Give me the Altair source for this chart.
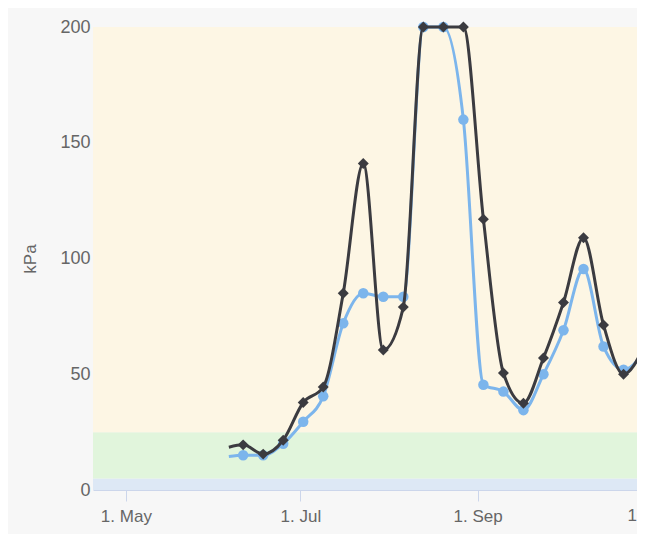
import altair as alt
import pandas as pd

# ---- data ----
dates = ["2019-06-06", "2019-06-11", "2019-06-18", "2019-06-25", "2019-07-02",
         "2019-07-09", "2019-07-16", "2019-07-23", "2019-07-30", "2019-08-06",
         "2019-08-13", "2019-08-20", "2019-08-27", "2019-09-03", "2019-09-10",
         "2019-09-17", "2019-09-24", "2019-10-01", "2019-10-08", "2019-10-15",
         "2019-10-22", "2019-10-29"]
has_marker = [False] + [True] * 21
series_blue = [14.5, 15, 15, 20, 29.5, 40.5, 72, 85, 83.5, 83.5,
               200, 200, 160, 45.5, 42.5, 34.5, 50, 69, 95.5, 62,
               52, 59]
series_dark = [18.5, 19.5, 15.5, 21.5, 37.8, 44.5, 85, 141, 60.5, 79,
               200, 200, 200, 117, 50.5, 37.5, 57, 81, 109, 71.3,
               50, 61.5]
band_low = [0, 5, 25]
band_high = [5, 25, 200]
band_color = ["#dde8f5", "#e1f5dc", "#fdf6e4"]
tick_months = [5, 7, 9]
clipped_tick_dates = ["2019-11-01"]
clipped_tick_labels = ["1. Nov"]

BLUE = "#7cb5ec"
DARK = "#3b3b40"
AXIS_GREY = "#666666"
FONT = "Liberation Sans"
W, H = 544, 463

df = pd.DataFrame({"date": dates, "marker": has_marker,
                   "blue": series_blue, "dark": series_dark})
bands = pd.DataFrame({"lo": band_low, "hi": band_high, "color": band_color})
extra_ticks = pd.DataFrame({"date": clipped_tick_dates, "label": clipped_tick_labels})

x_scale = alt.Scale(type="utc", domain=[
    alt.DateTime(year=2019, month=4, date=19, hours=12, utc=True),
    alt.DateTime(year=2019, month=10, date=26, hours=17, utc=True)])
y_scale = alt.Scale(domain=[0, 200], nice=False, zero=True)

x_axis = alt.Axis(values=[alt.DateTime(year=2019, month=m, date=1, utc=True) for m in tick_months],
                  labelExpr="utcFormat(datum.value, '%-d. %b')")
y_axis = alt.Axis(values=[0, 50, 100, 150, 200])

band_layer = alt.Chart(bands).mark_rect().encode(
    y=alt.Y("lo:Q", scale=y_scale, axis=y_axis, title="kPa"),
    y2="hi:Q",
    x=alt.value(0), x2=alt.value(W),
    color=alt.Color("color:N", scale=None),
)

base = alt.Chart(df)

def series(field, color, shape, size):
    line = base.mark_line(interpolate="monotone", color=color, strokeWidth=3).encode(
        x=alt.X("date:T", scale=x_scale, axis=x_axis, title=None),
        y=alt.Y(f"{field}:Q", scale=y_scale, title="kPa"),
    )
    pts = base.transform_filter(alt.datum.marker).mark_point(
        shape=shape, filled=True, size=size, color=color, opacity=1).encode(
        x=alt.X("date:T", scale=x_scale, title=None),
        y=alt.Y(f"{field}:Q", scale=y_scale, title="kPa"),
    )
    return line + pts

# tick label that lies past the right edge of the window (clipped like the reference)
edge_label = alt.Chart(extra_ticks).mark_text(
    font=FONT, fontSize=17, color=AXIS_GREY, baseline="top", align="center").encode(
    x=alt.X("date:T", scale=x_scale, title=None),
    y=alt.value(H + 18),
    text="label:N",
)

chart = alt.layer(
    band_layer,
    series("blue", BLUE, "circle", 110),
    series("dark", DARK, "diamond", 120),
    edge_label,
).properties(
    width=W, height=H,
    autosize="none",
    padding={"left": 85, "top": 19, "right": 0, "bottom": 44},
    background="#f7f7f7",
).configure_view(stroke=None).configure_axis(
    grid=False,
    labelFont=FONT, titleFont=FONT,
    labelColor=AXIS_GREY, titleColor=AXIS_GREY,
).configure_axisY(
    ticks=False, domain=False, labelPadding=3, labelFontSize=18,
    titleFontSize=17, titleFontWeight="normal",
    titleX=-63, titleY=H / 2, titleAlign="center", titleBaseline="middle",
).configure_axisX(
    domainColor="#ccd6eb", tickColor="#ccd6eb", tickSize=11,
    labelPadding=7, labelFontSize=17,
)

chart.save("out.html", embed_options={"renderer": "svg", "actions": False})
